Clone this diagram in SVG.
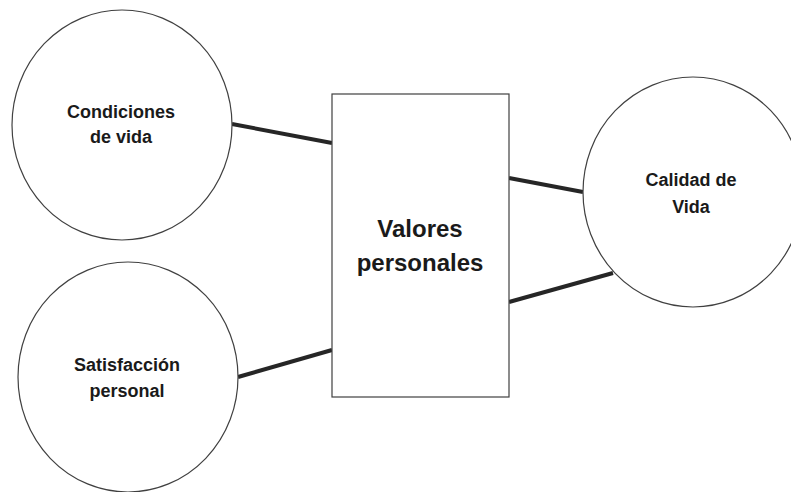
<svg xmlns="http://www.w3.org/2000/svg" width="791" height="492" viewBox="0 0 791 492">
<style>
.node{fill:#ffffff;stroke:#404040;stroke-width:1.2}
.lbl{font-family:"Liberation Sans",Arial,sans-serif;font-weight:bold;fill:#1a1a1a;text-anchor:middle}
.s{font-size:18px}
.b{font-size:24px}
.conn{stroke:#262626;stroke-width:4;fill:none}
</style>
<rect width="791" height="492" fill="#ffffff"/>
<g id="connectors">
<line class="conn" x1="232" y1="124" x2="332" y2="143"/>
<line class="conn" x1="238" y1="377" x2="332" y2="350"/>
<line class="conn" x1="509" y1="178" x2="583" y2="192"/>
<line class="conn" x1="509" y1="302" x2="613" y2="273"/>
</g>
<g id="condiciones">
<ellipse class="node" cx="122" cy="125" rx="110" ry="115"/>
<text class="lbl s" x="121" y="118">Condiciones</text>
<text class="lbl s" x="121" y="143">de vida</text>
</g>
<g id="satisfaccion">
<ellipse class="node" cx="128" cy="377" rx="110" ry="115"/>
<text class="lbl s" x="127" y="371">Satisfacción</text>
<text class="lbl s" x="127" y="397">personal</text>
</g>
<g id="valores">
<rect class="node" x="332" y="94" width="177" height="303"/>
<text class="lbl b" x="420" y="237">Valores</text>
<text class="lbl b" x="420" y="271">personales</text>
</g>
<g id="calidad">
<ellipse class="node" cx="693" cy="192" rx="110" ry="115"/>
<text class="lbl s" x="691" y="186">Calidad de</text>
<text class="lbl s" x="691" y="213">Vida</text>
</g>
</svg>
